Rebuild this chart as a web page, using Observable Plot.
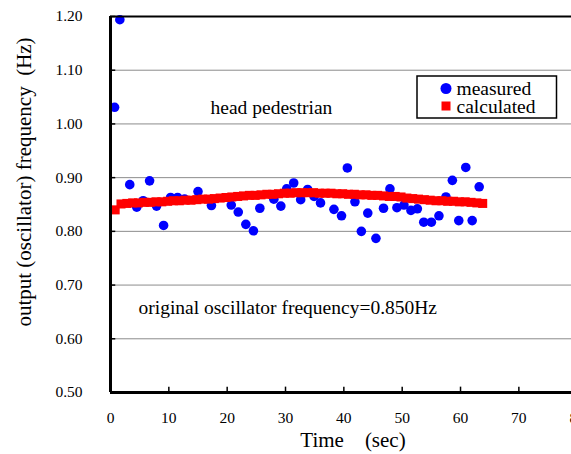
<!DOCTYPE html>
<html>
<head>
<meta charset="utf-8">
<script src="https://cdn.jsdelivr.net/npm/d3@7"></script>
<script src="https://cdn.jsdelivr.net/npm/@observablehq/plot@0.6"></script>
<style>
  html, body { margin: 0; padding: 0; background: white; }
  #chart { width: 571px; height: 454px; overflow: hidden; }
</style>
</head>
<body>
<div id="chart"></div>
<script>
// ---- data ----
const measuredTime = [0.7, 1.6, 3.3, 4.5, 5.6, 6.7, 7.9, 9.1, 10.3, 11.5, 12.7, 15.0, 17.3, 20.7, 21.9, 23.2, 24.5, 25.6, 28.0, 29.2, 30.2, 31.4, 32.6, 33.8, 34.9, 36.0, 38.3, 39.6, 40.6, 41.9, 43.0, 44.1, 45.5, 46.8, 47.9, 49.1, 50.3, 51.5, 52.6, 53.7, 55.0, 56.3, 57.5, 58.6, 59.7, 60.9, 62.0, 63.2];
const measuredFreq = [1.031, 1.194, 0.887, 0.845, 0.857, 0.894, 0.847, 0.811, 0.863, 0.863, 0.860, 0.874, 0.848, 0.849, 0.836, 0.813, 0.801, 0.843, 0.860, 0.847, 0.879, 0.890, 0.859, 0.878, 0.865, 0.853, 0.841, 0.829, 0.918, 0.855, 0.800, 0.834, 0.787, 0.843, 0.879, 0.844, 0.849, 0.839, 0.842, 0.817, 0.817, 0.829, 0.864, 0.895, 0.820, 0.919, 0.820, 0.883];

const calcTime = [0.8, 1.8, 2.8, 3.8, 4.8, 5.8, 6.8, 7.8, 8.8, 9.8, 10.8, 11.8, 12.8, 13.8, 14.8, 15.8, 16.8, 17.8, 18.8, 19.8, 20.8, 21.8, 22.8, 23.8, 24.8, 25.8, 26.8, 27.8, 28.8, 29.8, 30.8, 31.8, 32.8, 33.8, 34.8, 35.8, 36.8, 37.8, 38.8, 39.8, 40.8, 41.8, 42.8, 43.8, 44.8, 45.8, 46.8, 47.8, 48.8, 49.8, 50.8, 51.8, 52.8, 53.8, 54.8, 55.8, 56.8, 57.8, 58.8, 59.8, 60.8, 61.8, 62.8, 63.8];
const calcFreq = [0.840, 0.851, 0.852, 0.853, 0.853, 0.854, 0.854, 0.855, 0.855, 0.856, 0.857, 0.857, 0.858, 0.858, 0.859, 0.860, 0.860, 0.861, 0.862, 0.863, 0.864, 0.865, 0.866, 0.867, 0.867, 0.868, 0.869, 0.869, 0.870, 0.871, 0.871, 0.872, 0.872, 0.872, 0.872, 0.871, 0.871, 0.871, 0.870, 0.870, 0.869, 0.869, 0.868, 0.868, 0.867, 0.867, 0.866, 0.865, 0.865, 0.864, 0.862, 0.861, 0.860, 0.859, 0.858, 0.857, 0.857, 0.856, 0.856, 0.855, 0.855, 0.854, 0.853, 0.852];

const xTicks = [0, 10, 20, 30, 40, 50, 60, 70, 80];
const yTicks = [0.5, 0.6, 0.7, 0.8, 0.9, 1.0, 1.1, 1.2];
const gridLines = [0.6, 0.7, 0.8, 0.9, 1.0, 1.1];

const xTitle = "Time    (sec)";
const yTitle = "output (oscillator) frequency  (Hz)";
const annotations = [
  {t: 17.15, f: 1.030, label: "head pedestrian"},
  {t: 4.8, f: 0.6577, label: "original oscillator frequency=0.850Hz"}
];
const seriesNames = ["measured", "calculated"];
const seriesColors = ["#0000ff", "#ff0000"];

// ---- build tables ----
const measured = measuredTime.map((t, i) => ({t, f: measuredFreq[i]}));
const calculated = calcTime.map((t, i) => ({t, f: calcFreq[i]}));

const FONT = "'Liberation Serif', 'Times New Roman', serif";

const chart = Plot.plot({
  width: 571,
  height: 454,
  marginLeft: 110,
  marginRight: 0,
  marginTop: 16,
  marginBottom: 62,
  x: {domain: [0, 80], range: [110, 576.7]},
  y: {domain: [0.5, 1.2], range: [392, 16]},
  style: {fontFamily: FONT, fontSize: "15.5px", background: "white", color: "black"},
  marks: [
    Plot.ruleY(gridLines, {stroke: "#8c8c8c", strokeWidth: 1}),
    Plot.dot(measured, {x: "t", y: "f", r: 4.8, fill: seriesColors[0], stroke: "none"}),
    Plot.dot(calculated, {x: "t", y: "f", r: 5.1, symbol: "square", fill: seriesColors[1], stroke: "none"}),
    Plot.ruleY([1.2], {stroke: "black", strokeWidth: 2}),
    Plot.ruleY([0.5], {stroke: "black", strokeWidth: 3}),
    Plot.ruleX([0], {stroke: "black", strokeWidth: 3}),
    Plot.ruleY(yTicks, {x1: 0, x2: 0.9, stroke: "black", strokeWidth: 1.5}),
    Plot.ruleX(xTicks, {y1: 0.5, y2: 0.51, stroke: "black", strokeWidth: 1.5}),
    Plot.axisY({ticks: yTicks, tickFormat: d => d.toFixed(2), tickSize: 0, tickPadding: 28, label: null, fontSize: 15.5}),
    Plot.axisX({ticks: xTicks, tickFormat: d => String(d), tickSize: 0, tickPadding: 19, label: null, fontSize: 15.5}),
    Plot.text(annotations, {x: "t", y: "f", text: "label", textAnchor: "start", fontSize: 19.5, fill: "black"})
  ]
});

document.getElementById("chart").appendChild(chart);

// ---- axis titles and legend ----
const svg = d3.select(chart);
svg.append("text")
  .attr("x", 353).attr("y", 447)
  .attr("text-anchor", "middle")
  .attr("font-family", FONT).attr("font-size", 21)
  .attr("fill", "black")
  .style("white-space", "pre")
  .text(xTitle);

svg.append("text")
  .attr("transform", "translate(31,182) rotate(-90)")
  .attr("text-anchor", "middle")
  .attr("font-family", FONT).attr("font-size", 21)
  .attr("fill", "black")
  .style("white-space", "pre")
  .text(yTitle);

const lg = svg.append("g");
lg.append("rect")
  .attr("x", 417).attr("y", 76).attr("width", 139.5).attr("height", 42)
  .attr("fill", "white").attr("stroke", "black").attr("stroke-width", 1.5);
lg.append("circle").attr("cx", 446).attr("cy", 88.5).attr("r", 5.5).attr("fill", seriesColors[0]);
lg.append("rect").attr("x", 441.5).attr("y", 101.5).attr("width", 9).attr("height", 9).attr("fill", seriesColors[1]);
lg.append("text").attr("x", 456.5).attr("y", 95).attr("text-anchor", "start")
  .attr("font-family", FONT).attr("font-size", 19.5).attr("fill", "black").text(seriesNames[0]);
lg.append("text").attr("x", 456.5).attr("y", 112.5).attr("text-anchor", "start")
  .attr("font-family", FONT).attr("font-size", 19.5).attr("fill", "black").text(seriesNames[1]);
</script>
</body>
</html>
